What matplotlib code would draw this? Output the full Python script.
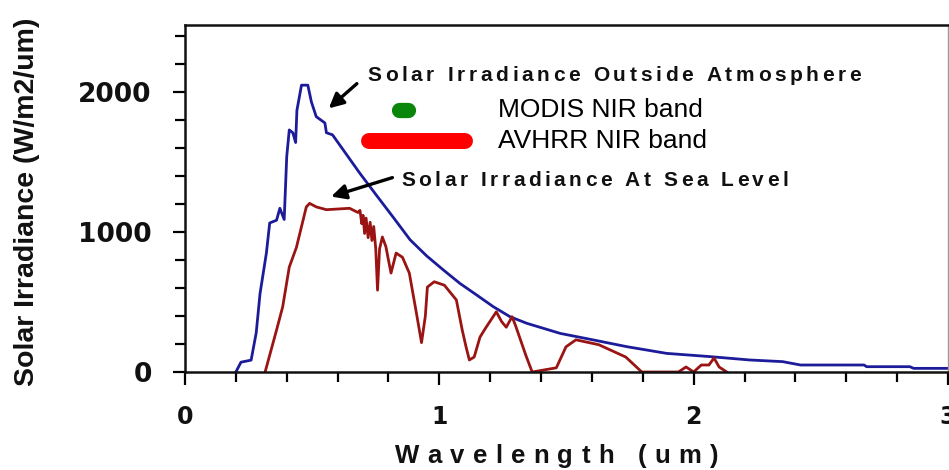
import numpy as np
import matplotlib
matplotlib.use("Agg")
import matplotlib.pyplot as plt
from matplotlib.ticker import MultipleLocator
from matplotlib.font_manager import FontProperties
from matplotlib.textpath import TextToPath

# solar irradiance outside the atmosphere (W/m2/um)
wl_top = [0.20, 0.22, 0.26, 0.28, 0.295, 0.32, 0.333, 0.36, 0.373, 0.39, 0.40, 0.41,
          0.424, 0.435, 0.44, 0.458, 0.483, 0.497, 0.516, 0.55, 0.556, 0.58, 0.688,
          0.754, 0.819, 0.885, 0.95, 1.016, 1.081, 1.147, 1.212, 1.278, 1.344, 1.475,
          1.606, 1.737, 1.894, 2.064, 2.22, 2.35, 2.42, 2.67, 2.68, 2.85, 2.865, 3.0]
irr_top = [0, 70, 85, 280, 560, 850, 1065, 1085, 1170, 1090, 1540, 1730,
           1710, 1640, 1870, 2050, 2050, 1930, 1825, 1780, 1710, 1695, 1419,
           1260, 1105, 945, 830, 729, 633, 550, 467, 395, 348, 276,
           229, 181, 133, 110, 86, 74, 50, 50, 38, 38, 26, 26]

# solar irradiance at sea level (W/m2/um)
wl_sea = [0.315, 0.333, 0.36, 0.384, 0.41, 0.438, 0.477, 0.49, 0.516, 0.556, 0.647,
          0.68, 0.688, 0.695, 0.70, 0.706, 0.712, 0.72, 0.728, 0.735, 0.742, 0.75,
          0.757, 0.765, 0.776, 0.79, 0.80, 0.81, 0.83, 0.855, 0.882, 0.91, 0.93,
          0.945, 0.953, 0.98, 1.02, 1.067, 1.09, 1.105, 1.118, 1.137, 1.16, 1.184,
          1.224, 1.245, 1.263, 1.286, 1.30, 1.34, 1.365, 1.46, 1.498, 1.537, 1.627,
          1.733, 1.796, 1.94, 1.97, 2.0, 2.03, 2.06, 2.08, 2.1, 2.13]
irr_sea = [0, 120, 300, 465, 750, 890, 1180, 1205, 1180, 1160, 1170,
           1140, 1155, 1060, 1120, 990, 1100, 960, 1070, 940, 1040, 880,
           585, 880, 965, 895, 800, 707, 850, 820, 707, 420, 210,
           400, 607, 645, 620, 515, 300, 180, 86, 107, 250, 320,
           430, 360, 320, 395, 330, 120, 0, 30, 180, 230, 195,
           107, 0, 0, 36, 0, 50, 50, 100, 36, 0]

modis_band = [0.841, 0.876]
avhrr_band = [0.725, 1.10]
band_labels = ["MODIS NIR band", "AVHRR NIR band"]

fig = plt.figure(figsize=(9.49, 4.70), dpi=100)
ax = fig.add_axes([185 / 949, 98 / 470, 763 / 949, 347 / 470])

ax.plot(wl_top, irr_top, color="#1c1c9a", lw=2.0)
ax.plot(wl_sea, irr_sea, color="#9a1414", lw=2.0)

ax.plot(modis_band, [1871, 1871], color="#0a870a", lw=11, solid_capstyle="round")
ax.plot(avhrr_band, [1650, 1650], color="#ff0000", lw=11.5, solid_capstyle="round")
ax.text(1.23, 1871, band_labels[0], fontsize=19, family="Liberation Sans", va="center")
ax.text(1.23, 1650, band_labels[1], fontsize=19, family="Liberation Sans", va="center")

arrow = dict(arrowstyle="-|>", color="black", lw=2.4, mutation_scale=22)
ax.annotate("", xy=(0.557, 1871), xytext=(0.684, 2074), arrowprops=arrow)
ax.annotate("", xy=(0.564, 1248), xytext=(0.826, 1395), arrowprops=arrow)

ttp = TextToPath()


def spaced_text(x, y, s, width_px, size, coords):
    # letter-spaced bold text, stretched to a given pixel width
    prop = FontProperties(family="Liberation Sans", weight="bold", size=size)
    bar = ttp.get_text_width_height_descent("||", prop, ismath=False)[0]
    adv = [(ttp.get_text_width_height_descent("|" + c + "|", prop, ismath=False)[0] - bar)
           * fig.dpi / 72 for c in s]
    gap = (width_px - sum(adv)) / (len(s) - 1)
    off = 0.0
    for c, a in zip(s, adv):
        ax.annotate(c, xy=(x, y), xycoords=coords, xytext=(off, 0),
                    textcoords="offset pixels", fontproperties=prop,
                    ha="left", va="center", color="#111111", annotation_clip=False)
        off += a + gap


spaced_text(0.716, 2121, "Solar Irradiance Outside Atmosphere", 494, 15, "data")
spaced_text(0.849, 1371, "Solar Irradiance At Sea Level", 387, 15, "data")
spaced_text((395 - 185) / 763, (372 - 456) / 347, "Wavelength (um)", 323, 18.5,
            "axes fraction")

fig.text(27 / 949, 1 - 202 / 470, "Solar Irradiance (W/m2/um)", rotation=90,
         ha="center", va="center", fontsize=20.5, family="Liberation Sans",
         weight="bold", color="#111111")

ax.set_xlim(0, 3)
ax.set_ylim(0, 2480)
ax.set_xticks([0, 1, 2, 3])
ax.set_yticks([0, 1000, 2000])
ax.xaxis.set_minor_locator(MultipleLocator(0.2))
ax.yaxis.set_minor_locator(MultipleLocator(200))
ax.tick_params(which="major", direction="out", length=9, width=1.6, pad=15,
               labelsize=17, labelcolor="#111111")
ax.tick_params(which="minor", direction="out", length=7, width=1.6)
ax.tick_params(axis="y", which="major", labelsize=19)
for lab in ax.get_xticklabels() + ax.get_yticklabels():
    lab.set_fontweight("bold")
    lab.set_family("DejaVu Sans")

for side in ["left", "bottom", "top"]:
    ax.spines[side].set_linewidth(1.8)
    ax.spines[side].set_color("#111111")
ax.spines["right"].set_linewidth(1.0)
ax.spines["right"].set_color("#999999")

fig.savefig("out.png", dpi=100)
